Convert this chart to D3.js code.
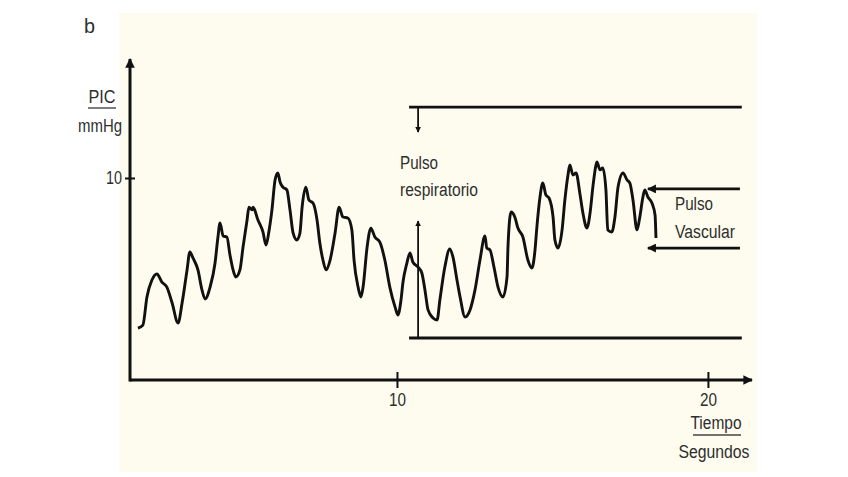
<!DOCTYPE html>
<html><head><meta charset="utf-8">
<script src="https://cdn.jsdelivr.net/npm/d3@7"></script>
<style>
html,body{margin:0;padding:0;background:#fff;}
text{font-family:"Liberation Sans Narrow","Arial Narrow","Liberation Sans",Arial,sans-serif;fill:#2e2e2e;}
</style></head><body>
<svg id="c" width="848" height="477"></svg>
<script>
// Time (s) of trace samples
const time = [1.67,1.83,1.96,2.12,2.28,2.44,2.60,2.77,2.96,3.09,3.25,3.34,3.44,3.60,3.73,3.83,3.99,4.15,4.24,4.31,4.41,4.53,4.63,4.73,4.82,4.95,5.05,5.18,5.24,5.34,5.37,5.53,5.69,5.79,5.88,5.98,6.08,6.17,6.24,6.33,6.46,6.56,6.66,6.78,6.88,6.95,7.07,7.17,7.30,7.43,7.52,7.62,7.72,7.85,8.01,8.14,8.26,8.42,8.55,8.62,8.75,8.84,8.91,9.04,9.16,9.29,9.45,9.61,9.77,9.94,10.03,10.13,10.19,10.32,10.42,10.51,10.68,10.80,10.90,11.00,11.16,11.29,11.38,11.54,11.70,11.80,11.93,12.03,12.19,12.35,12.51,12.67,12.83,12.89,12.99,13.12,13.25,13.41,13.54,13.57,13.67,13.79,13.89,14.05,14.21,14.34,14.44,14.50,14.60,14.69,14.79,14.89,15.02,15.08,15.18,15.31,15.40,15.50,15.56,15.66,15.76,15.88,15.98,16.11,16.21,16.30,16.40,16.43,16.53,16.62,16.72,16.78,16.91,17.01,17.11,17.27,17.40,17.49,17.59,17.72,17.81,17.91,17.97,18.07,18.20,18.30,18.33];
// PIC (mmHg) of trace samples
const pic = [2.57,2.72,4.11,4.95,5.25,4.85,4.60,3.81,2.82,3.81,5.45,6.34,6.04,5.45,4.46,4.01,4.60,5.79,7.03,7.77,7.13,7.08,6.19,5.45,5.10,5.45,6.58,7.92,8.56,8.42,8.56,7.92,7.33,6.68,7.33,8.42,9.90,10.25,9.80,9.55,9.41,8.42,7.28,6.93,7.28,8.56,9.55,8.91,8.76,7.92,6.78,5.94,5.45,5.94,7.28,8.56,8.07,8.02,7.43,5.94,4.60,4.11,4.60,6.58,7.52,7.08,6.83,5.94,4.60,3.61,3.22,3.96,4.80,5.79,6.29,5.84,5.59,5.30,4.46,3.47,3.07,2.97,3.96,5.59,6.49,6.09,4.95,4.11,3.12,3.47,4.46,5.94,7.13,6.53,6.44,5.59,4.60,4.11,5.10,6.58,8.32,8.07,7.52,7.08,5.94,5.54,6.44,7.57,9.06,9.75,9.16,9.01,8.07,6.93,6.53,7.43,8.91,10.15,10.64,10.15,10.25,9.26,8.27,7.52,8.27,9.55,10.64,10.79,10.40,10.50,9.41,7.43,7.33,8.07,9.55,10.25,9.90,9.75,8.91,7.43,8.07,9.06,9.41,9.06,8.76,8.17,7.03];
const xTicks = [10, 20];
const yTicks = [10];
const xLabelTop = "Tiempo", xLabelBottom = "Segundos";
const yLabelTop = "PIC", yLabelBottom = "mmHg";
const panelLetter = "b";
// annotation brackets (data units)
const respLevels = [13.51, 2.08];      // mmHg of bracket lines
const respSpan = [10.39, 21.09];       // s
const respArrowT = 10.68;
const respText = ["Pulso", "respiratorio"];
const vascLevels = [9.46, 6.53];
const vascSpan = [18.07, 21.03];
const vascText = ["Pulso", "Vascular"];

const svg = d3.select("#c");
const x = d3.scaleLinear().domain([1.415, 21.45]).range([130, 753]);
const y = d3.scaleLinear().domain([0, 15.94]).range([380, 58]);

svg.append("rect").attr("x", 119).attr("y", 13).attr("width", 638).attr("height", 459).attr("fill", "#fdfcee");

const defs = svg.append("defs");
defs.append("marker").attr("id", "arr").attr("viewBox", "0 0 10 10").attr("refX", 9).attr("refY", 5)
  .attr("markerWidth", 3.2).attr("markerHeight", 3.2).attr("markerUnits", "strokeWidth").attr("orient", "auto")
  .append("path").attr("d", "M0,0L10,5L0,10z").attr("fill", "#111");

// narrow text helper
function label(xp, yp, str, w, anchor, size) {
  return svg.append("text").attr("x", xp).attr("y", yp).attr("text-anchor", anchor || "start")
    .attr("font-size", size || 18).attr("textLength", w).attr("lengthAdjust", "spacingAndGlyphs").text(str);
}

// axes lines
svg.append("line").attr("x1", x.range()[0]).attr("x2", x.range()[1] - 1).attr("y1", y(0)).attr("y2", y(0))
  .attr("stroke", "#111").attr("stroke-width", 3).attr("marker-end", "url(#arr)");
svg.append("line").attr("x1", x.range()[0]).attr("x2", x.range()[0]).attr("y1", y(0) + 1.5).attr("y2", y.range()[1] + 1)
  .attr("stroke", "#111").attr("stroke-width", 3).attr("marker-end", "url(#arr)");

const gx = svg.append("g").attr("transform", `translate(0,${y(0)})`)
  .call(d3.axisBottom(x).tickValues(xTicks).tickSize(8).tickPadding(5).tickFormat(d3.format("d")));
gx.select(".domain").remove();
gx.selectAll(".tick line").attr("y1", -8).attr("y2", 8).attr("stroke", "#111").attr("stroke-width", 2);
gx.selectAll(".tick text").attr("font-size", 18).attr("fill", "#2e2e2e").attr("font-family", null)
  .attr("textLength", 17).attr("lengthAdjust", "spacingAndGlyphs");

const gy = svg.append("g").attr("transform", `translate(${x.range()[0]},0)`)
  .call(d3.axisLeft(y).tickValues(yTicks).tickSize(5).tickPadding(3).tickFormat(d3.format("d")));
gy.select(".domain").remove();
gy.selectAll(".tick line").attr("x1", -5).attr("x2", 5).attr("stroke", "#111").attr("stroke-width", 2);
gy.selectAll(".tick text").attr("font-size", 18).attr("fill", "#2e2e2e").attr("font-family", null)
  .attr("textLength", 16).attr("lengthAdjust", "spacingAndGlyphs");

// labels
label(84, 33, panelLetter, 11, "start", 21);
label(102, 103, yLabelTop, 27, "middle");
svg.append("line").attr("x1", 88).attr("x2", 116).attr("y1", 108).attr("y2", 108).attr("stroke", "#444").attr("stroke-width", 1.4);
label(100, 132, yLabelBottom, 44, "middle");
label(716, 429, xLabelTop, 51, "middle");
svg.append("line").attr("x1", 693).attr("x2", 741).attr("y1", 435).attr("y2", 435).attr("stroke", "#444").attr("stroke-width", 1.4);
label(714, 458, xLabelBottom, 71, "middle");

// trace
const pts = time.map((t, i) => [t, pic[i]]);
svg.append("path").datum(pts)
  .attr("d", d3.line().x(d => x(d[0])).y(d => y(d[1])).curve(d3.curveMonotoneX))
  .attr("fill", "none").attr("stroke", "#111").attr("stroke-width", 2.9).attr("stroke-linejoin", "round");

// respiratory bracket
const ann = svg.append("g").attr("stroke", "#111").attr("stroke-width", 2.8);
respLevels.forEach(v => ann.append("line").attr("x1", x(respSpan[0])).attr("x2", x(respSpan[1])).attr("y1", y(v)).attr("y2", y(v)));
ann.append("line").attr("x1", x(respArrowT)).attr("x2", x(respArrowT)).attr("y1", y(respLevels[0])).attr("y2", y(respLevels[0]) + 25)
  .attr("stroke-width", 1.8).attr("marker-end", "url(#arr)");
ann.append("line").attr("x1", x(respArrowT)).attr("x2", x(respArrowT)).attr("y1", y(respLevels[1])).attr("y2", y(respLevels[1]) - 117)
  .attr("stroke-width", 1.8).attr("marker-end", "url(#arr)");
label(400, 169, respText[0], 38);
label(400, 196, respText[1], 78);

// vascular arrows
vascLevels.forEach(v => ann.append("line").attr("x1", x(vascSpan[1])).attr("x2", x(vascSpan[0])).attr("y1", y(v)).attr("y2", y(v))
  .attr("marker-end", "url(#arr)"));
label(675, 210, vascText[0], 38);
label(675, 238, vascText[1], 60);
</script></body></html>
